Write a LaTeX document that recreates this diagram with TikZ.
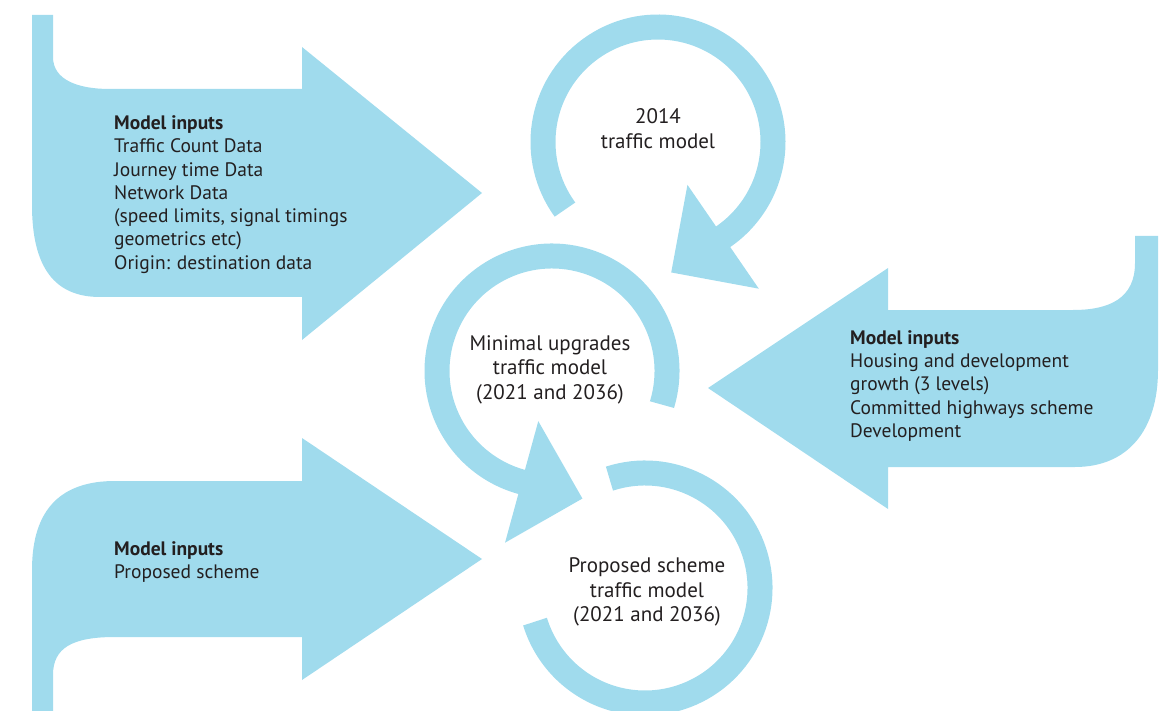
\documentclass[tikz,border=0pt]{standalone}
\usepackage{fontspec}
\setmainfont{PT Sans}
\usetikzlibrary{calc}
\definecolor{flowblue}{RGB}{160,219,237}
\definecolor{inktext}{RGB}{35,31,32}
\begin{document}
\begin{tikzpicture}[x=1pt,y=-1pt,
  bigarrow/.style={fill=flowblue, draw=none},
  ring/.style={draw=flowblue, line width=25pt},
  headtri/.style={fill=flowblue, draw=none},
  inlabel/.style={font=\fontsize{19.5}{23.3}\selectfont, text=inktext, inner sep=0pt, align=left},
  clabel/.style={font=\fontsize{21}{24.5}\selectfont, text=inktext, inner sep=0pt, align=center}]
\useasboundingbox (0,0) rectangle (1167,711);

% top-left input arrow
\fill[bigarrow] (32,15) -- (53,15) -- (53,57) .. controls (53,80) and (78,89) .. (110,89)
  -- (302,89) -- (302,47) -- (482,193) -- (302,340) -- (302,297) -- (100,297)
  .. controls (55,297) and (32,268) .. (32,205) -- cycle;

% right input arrow
\fill[bigarrow] (1158,236) -- (1135,236) -- (1135,263) .. controls (1135,298) and (1110,310) .. (1073,310)
  -- (888,310) -- (888,268) -- (708,388) -- (888,509) -- (888,467) -- (1075,467)
  .. controls (1128,467) and (1158,430) .. (1158,370) -- cycle;

% bottom-left input arrow
\fill[bigarrow] (32,711) -- (32,570) .. controls (32,508) and (62,481) .. (115,481)
  -- (302,481) -- (302,438) -- (482,559) -- (302,680) -- (302,637) -- (115,637)
  .. controls (72,637) and (53,648) .. (53,675) -- (53,711) -- cycle;

% circular arrows
\coordinate (c1) at (658,142);
\coordinate (c2) at (552,371);
\coordinate (c3) at (645,588);

\draw[ring] (c1) ++(-216:115) arc[start angle=-216, end angle=56.5, radius=115];
\fill[headtri] ($(c1)+(55.5:52)$) -- ($(c1)+(55.5:178)$) -- ($(c1)+(55.5:115)+(145.5:63)$) -- cycle;

\draw[ring] (c2) ++(17:115) arc[start angle=17, end angle=-255.7, radius=115];
\fill[headtri] ($(c2)+(105.3:52)$) -- ($(c2)+(105.3:178)$) -- ($(c2)+(105.3:115)+(15.3:63)$) -- cycle;

\draw[ring] (c3) ++(-108:115) arc[start angle=-108, end angle=163, radius=115];

% texts (anchor = baseline of the last line)
\node[inlabel, anchor=base west] (tlText) at (114,269.3)
  {\textbf{Model inputs}\\Traffic Count Data\\Journey time Data\\Network Data\\(speed limits, signal timings\\geometrics etc)\\Origin: destination data};
\node[inlabel, anchor=base west] (rText) at (850,437.3)
  {\textbf{Model inputs}\\Housing and development\\growth (3 levels)\\Committed highways scheme\\Development};
\node[inlabel, anchor=base west] (blText) at (114,578.3)
  {\textbf{Model inputs}\\Proposed scheme};

\node[clabel, anchor=base] (c1Text) at (658,148.3) {2014\\traffic model};
\node[clabel, anchor=base] (c2Text) at (550,399.3) {Minimal upgrades\\traffic model\\(2021 and 2036)};
\node[clabel, anchor=base] (c3Text) at (647,621.7) {Proposed scheme\\traffic model\\(2021 and 2036)};
\end{tikzpicture}
\end{document}
